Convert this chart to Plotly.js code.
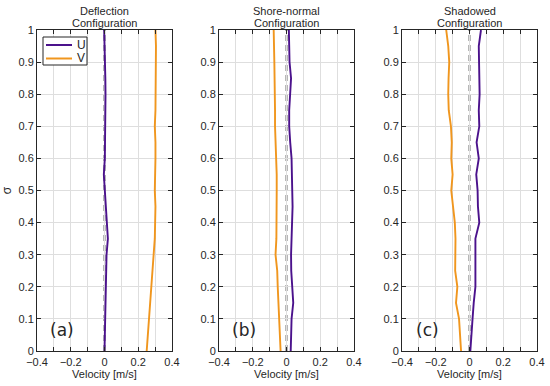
<!DOCTYPE html>
<html>
<head>
<meta charset="utf-8">
<script src="https://cdn.plot.ly/plotly-3.0.1.min.js"></script>
<style>html,body{margin:0;padding:0;background:#fff;}#chart{width:550px;height:386px;}</style>
</head>
<body>
<div id="chart"></div>
<script>
const sigma = [0,0.05,0.1,0.15,0.2,0.25,0.3,0.35,0.4,0.45,0.5,0.55,0.6,0.65,0.7,0.75,0.8,0.85,0.9,0.95,1.0];

const deflU = [0.0,0.002,0.004,0.006,0.006,0.008,0.012,0.02,0.015,0.01,0.004,-0.004,0.002,0.004,0.003,0.004,0.006,0.005,0.004,0.002,-0.002];
const deflV = [0.25,0.257,0.264,0.272,0.28,0.287,0.293,0.298,0.3,0.302,0.298,0.302,0.302,0.302,0.298,0.302,0.303,0.302,0.302,0.305,0.302];

const shoreU = [0.025,0.027,0.03,0.04,0.032,0.028,0.027,0.03,0.033,0.036,0.034,0.032,0.03,0.022,0.016,0.016,0.022,0.027,0.018,0.015,0.014];
const shoreV = [-0.035,-0.04,-0.045,-0.05,-0.052,-0.055,-0.065,-0.06,-0.058,-0.058,-0.058,-0.058,-0.062,-0.066,-0.068,-0.068,-0.068,-0.07,-0.072,-0.074,-0.076];

const shadU = [0.005,0.01,0.018,0.025,0.035,0.035,0.035,0.035,0.058,0.05,0.048,0.04,0.055,0.042,0.058,0.055,0.06,0.058,0.056,0.055,0.068];
const shadV = [-0.05,-0.056,-0.062,-0.08,-0.072,-0.085,-0.083,-0.083,-0.087,-0.099,-0.108,-0.1,-0.108,-0.105,-0.11,-0.123,-0.126,-0.124,-0.12,-0.126,-0.138];

const panelTitles = [["Deflection","Configuration"],["Shore-normal","Configuration"],["Shadowed","Configuration"]];
const panelLabels = ["(a)","(b)","(c)"];
const seriesNames = ["U","V"];
const xLabel = "Velocity [m/s]";
const yLabel = "σ";

const colU = "#4b128c";
const colV = "#f0961e";
const seriesColors = [colU, colV];
const font = "Liberation Sans, Arial, sans-serif";
const ink = "#262626";

const panels = [[deflU, deflV],[shoreU, shoreV],[shadU, shadV]];
const domainsX = [[37/550,172/550],[219/550,354/550],[402/550,537/550]];
const domY = [35/386, 356/386];
const W = 550, H = 386;
const px = v => v / W, py = v => 1 - v / H;

const traces = [];
panels.forEach((p, i) => {
  const xa = i === 0 ? 'x' : 'x' + (i+1);
  const ya = i === 0 ? 'y' : 'y' + (i+1);
  p.forEach((vals, k) => {
    traces.push({x: vals, y: sigma, xaxis: xa, yaxis: ya, mode: 'lines', name: seriesNames[k],
      line: {color: seriesColors[k], width: 1.9}, showlegend: false});
  });
});

const layout = {
  width: W, height: H,
  margin: {l: 0, r: 0, t: 0, b: 0},
  paper_bgcolor: '#fff', plot_bgcolor: '#fff',
  font: {family: font, size: 11, color: ink},
  showlegend: false,
  shapes: [], annotations: []
};

panels.forEach((p, i) => {
  const sfx = i === 0 ? '' : String(i+1);
  const xref = 'x' + sfx, yref = 'y' + sfx;
  layout['xaxis' + sfx] = {
    domain: domainsX[i], anchor: yref, range: [-0.4, 0.4], dtick: 0.2, tick0: -0.4,
    ticks: 'inside', ticklen: 4, tickcolor: ink, showline: true, linecolor: ink, linewidth: 1,
    mirror: 'ticks', showgrid: true, gridcolor: '#dedede', zeroline: false,
    tickfont: {family: font, size: 11, color: ink}, ticklabelstandoff: 1,
    minor: {dtick: 0.1, ticks: 'inside', ticklen: 4, tickcolor: ink, showgrid: true, gridcolor: '#dedede'},
    title: {text: xLabel, font: {family: font, size: 11, color: ink}, standoff: 3},
    fixedrange: true
  };
  layout['yaxis' + sfx] = {
    domain: domY, anchor: xref, range: [0, 1], dtick: 0.1,
    ticks: 'inside', ticklen: 4, tickcolor: ink, showline: true, linecolor: ink, linewidth: 1,
    mirror: 'ticks', showgrid: true, gridcolor: '#dedede', zeroline: false,
    tickfont: {family: font, size: 11, color: ink},
    title: i === 0 ? {text: yLabel, font: {family: font, size: 12, color: ink}, standoff: 6} : {text: ''},
    fixedrange: true
  };
  layout.shapes.push({type: 'line', xref: xref, yref: yref + ' domain', x0: 0, x1: 0, y0: 0, y1: 1,
    line: {color: '#707070', width: 2, dash: '6px,4px'}, layer: 'below'});
  const cx = (domainsX[i][0] + domainsX[i][1]) / 2;
  layout.annotations.push({xref: 'paper', yref: 'paper', x: cx, y: py(11), text: panelTitles[i][0],
    showarrow: false, xanchor: 'center', yanchor: 'middle', font: {family: font, size: 11, color: ink}});
  layout.annotations.push({xref: 'paper', yref: 'paper', x: cx, y: py(23), text: panelTitles[i][1],
    showarrow: false, xanchor: 'center', yanchor: 'middle', font: {family: font, size: 11, color: ink}});
  layout.annotations.push({xref: xref, yref: yref, x: -0.25, y: 0.065, text: panelLabels[i],
    showarrow: false, xanchor: 'center', yanchor: 'middle', font: {family: 'DejaVu Sans, sans-serif', size: 17, color: ink}});
});

// Compact legend box in panel (a)
layout.shapes.push({type: 'rect', xref: 'paper', yref: 'paper', x0: px(43), x1: px(87), y0: py(65), y1: py(37),
  fillcolor: '#fff', line: {color: ink, width: 1}, layer: 'above'});
seriesNames.forEach((n, k) => {
  const yy = py(45 + k * 13.5);
  layout.shapes.push({type: 'line', xref: 'paper', yref: 'paper', x0: px(46), x1: px(72), y0: yy, y1: yy,
    line: {color: seriesColors[k], width: 2}, layer: 'above'});
  layout.annotations.push({xref: 'paper', yref: 'paper', x: px(75), y: yy, text: n, showarrow: false,
    xanchor: 'left', yanchor: 'middle', font: {family: font, size: 12, color: ink}});
});

Plotly.newPlot('chart', traces, layout, {staticPlot: true, displayModeBar: false});
</script>
</body>
</html>
